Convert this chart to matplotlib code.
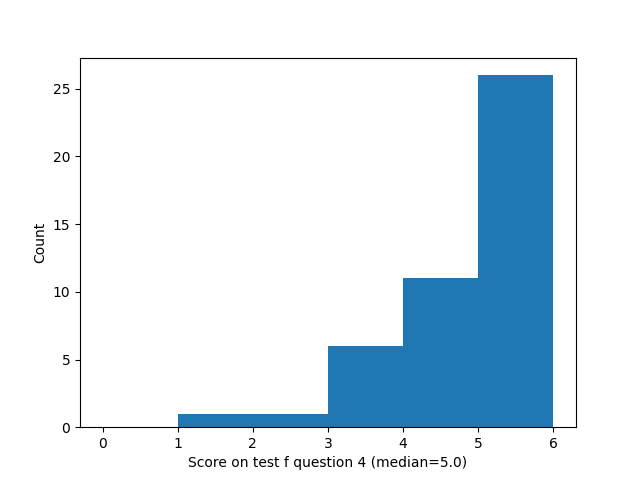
import matplotlib

matplotlib.use("Agg")
import matplotlib.pyplot as plt

# histogram bins (score values) and counts
bin_edges = [0, 1, 2, 3, 4, 5, 6]
bin_starts = [0, 1, 2, 3, 4, 5]
counts = [0, 1, 1, 6, 11, 26]

fig, ax = plt.subplots(figsize=(6.4, 4.8), dpi=100)
ax.hist(bin_starts, bins=bin_edges, weights=counts, color="#1f77b4")
ax.set_xlabel("Score on test f question 4 (median=5.0)")
ax.set_ylabel("Count")

fig.savefig("out.png", dpi=100)
plt.close(fig)
